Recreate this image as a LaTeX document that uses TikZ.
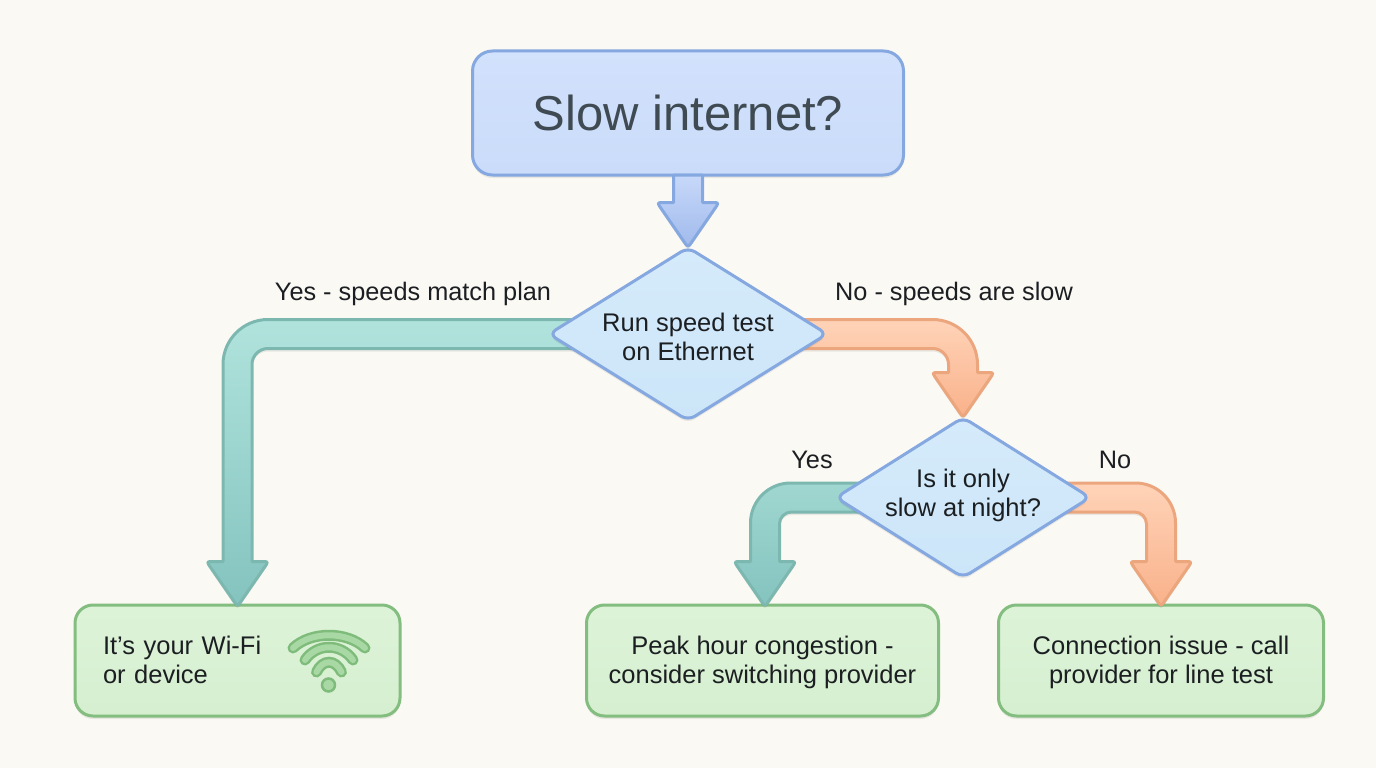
\documentclass[tikz,border=0pt]{standalone}
\usepackage{fontspec}
\setmainfont{Liberation Sans}
\usetikzlibrary{shapes.geometric,shadows,calc}
\pgfdeclarelayer{front}
\pgfsetlayers{main,front}
\definecolor{paper}{HTML}{FBF9F4}
\definecolor{ink}{HTML}{1C1F22}
\definecolor{titleink}{HTML}{3F4A52}
\definecolor{blueline}{HTML}{85A8E0}
\definecolor{boxtop}{HTML}{D2E1FC}
\definecolor{boxbot}{HTML}{CADCFA}
\definecolor{diatop}{HTML}{D5EBFB}
\definecolor{diabot}{HTML}{CCE5F8}
\definecolor{greenline}{HTML}{83BD7F}
\definecolor{leaftop}{HTML}{DDF3D8}
\definecolor{leafbot}{HTML}{D6EFD0}
\definecolor{wifiline}{HTML}{7FBC7C}
\definecolor{wififill}{HTML}{A8D8A3}
\definecolor{tealline}{HTML}{7DB8B0}
\definecolor{tealtop}{HTML}{B0E3DC}
\definecolor{tealmid}{HTML}{A0D7D0}
\definecolor{tealbot}{HTML}{84C3BF}
\definecolor{orangeline}{HTML}{EBA67E}
\definecolor{orangetop}{HTML}{FFD3B8}
\definecolor{orangebot}{HTML}{F9B18A}
\definecolor{arrowtop}{HTML}{C7D8F9}
\definecolor{arrowbot}{HTML}{A0BAEC}
\tikzset{
  softshadow/.style={drop shadow={opacity=0.07,shadow xshift=0pt,shadow yshift=-3pt,fill=black}},
  titlebox/.style={draw=blueline,line width=3pt,top color=boxtop,bottom color=boxbot,rounded corners=20pt,
    minimum width=431pt,minimum height=124pt,inner sep=0pt,outer sep=0pt,text=titleink,font=\fontsize{49}{56}\selectfont,softshadow},
  decision/.style={diamond,draw=blueline,line width=3pt,top color=diatop,bottom color=diabot,rounded corners=8pt,
    inner sep=0pt,outer sep=0pt,text=ink,font=\fontsize{25.5}{29}\selectfont,softshadow},
  leaf/.style={draw=greenline,line width=3pt,top color=leaftop,bottom color=leafbot,rounded corners=18pt,
    minimum height=111pt,inner sep=0pt,outer sep=0pt,text=ink,font=\fontsize{25.5}{29}\selectfont,softshadow},
  branchlabel/.style={text=ink,inner sep=0pt,font=\fontsize{25.3}{29}\selectfont},
  tealarrow/.style={draw=tealline,line width=3pt,line join=round,top color=tealtop,bottom color=tealbot,softshadow},
  tealarrowshort/.style={draw=tealline,line width=3pt,line join=round,top color=tealmid,bottom color=tealbot,softshadow},
  orangearrow/.style={draw=orangeline,line width=3pt,line join=round,top color=orangetop,bottom color=orangebot,softshadow},
  bluearrow/.style={draw=blueline,line width=3pt,line join=round,top color=arrowtop,bottom color=arrowbot,softshadow},
  wifistroke/.style={draw=wifiline,line width=11pt,line cap=round},
  wifiinner/.style={draw=wififill,line width=6pt,line cap=round}
}
% two-line text with zero height, moved down by #2 from the node centre
\newcommand{\twolines}[3][c]{\raisebox{\dimexpr -9pt - #2\relax}[0pt][0pt]{\begin{tabular}{@{}#1@{}}#3\end{tabular}}}
% arrow heads, walked right to left and left to right
\newcommand{\headRL}{%
  -- (\x2+14.5pt,\y2+45pt)
  -- (\x2+24pt,\y2+45pt) .. controls (\x2+31pt,\y2+45pt) .. (\x2+27pt,\y2+39.2pt)
  -- (\x2+4pt,\y2+5.8pt) .. controls (\x2,\y2) .. (\x2-4pt,\y2+5.8pt)
  -- (\x2-27pt,\y2+39.2pt) .. controls (\x2-31pt,\y2+45pt) .. (\x2-24pt,\y2+45pt)
  -- (\x2-14.5pt,\y2+45pt)}
\newcommand{\headLR}{%
  -- (\x2-14.5pt,\y2+45pt)
  -- (\x2-24pt,\y2+45pt) .. controls (\x2-31pt,\y2+45pt) .. (\x2-27pt,\y2+39.2pt)
  -- (\x2-4pt,\y2+5.8pt) .. controls (\x2,\y2) .. (\x2+4pt,\y2+5.8pt)
  -- (\x2+27pt,\y2+39.2pt) .. controls (\x2+31pt,\y2+45pt) .. (\x2+24pt,\y2+45pt)
  -- (\x2+14.5pt,\y2+45pt)}
% #1 start, #2 end, #3 outer radius, #4 inner radius, #5 style
\newcommand{\elbowleft}[5]{%
  \path[#5] let \p1=(#1), \p2=(#2) in
    (\x1,\y1+14.5pt) -- (\x2-14.5pt+#3pt,\y1+14.5pt)
    arc[start angle=90,end angle=180,radius=#3pt]
    \headLR
    -- (\x2+14.5pt,\y1-14.5pt-#4pt)
    arc[start angle=180,end angle=90,radius=#4pt]
    -- (\x1,\y1-14.5pt) -- cycle;}
\newcommand{\elbowright}[5]{%
  \path[#5] let \p1=(#1), \p2=(#2) in
    (\x1,\y1+14.5pt) -- (\x2+14.5pt-#3pt,\y1+14.5pt)
    arc[start angle=90,end angle=0,radius=#3pt]
    \headRL
    -- (\x2-14.5pt,\y1-14.5pt-#4pt)
    arc[start angle=0,end angle=90,radius=#4pt]
    -- (\x1,\y1-14.5pt) -- cycle;}
\begin{document}
\begin{tikzpicture}[x=1pt,y=-1pt]
\useasboundingbox (0,0) rectangle (1376,768);
\fill[paper] (0,0) rectangle (1376,768);
\node[titlebox] (top) at (688,113) {Slow internet?};
\node[leaf,minimum width=325pt,text width=269pt] (wifi) at (237.5,660.5) {\twolines[l]{0pt}{It’s your Wi-Fi\\or device}};
\node[leaf,minimum width=352pt] (peak) at (762.5,660.5) {\twolines{0pt}{Peak hour congestion -\\consider switching provider}};
\node[leaf,minimum width=325pt] (line) at (1161,660.5) {\twolines{0pt}{Connection issue - call\\provider for line test}};
\begin{pgfonlayer}{front}
\node[decision,aspect=1.607,minimum width=278pt,minimum height=173pt] (speed) at (688,334) {\twolines{3.5pt}{Run speed test\\on Ethernet}};
\node[decision,aspect=1.5875,minimum width=254pt,minimum height=160pt] (night) at (963,497.5) {\twolines{-4pt}{Is it only\\slow at night?}};
\end{pgfonlayer}
\node[branchlabel] (lyes) at (413,294) {Yes - speeds match plan};
\node[branchlabel] (lno) at (954,294) {No - speeds are slow};
\node[branchlabel] (lyes2) at (812,460) {Yes};
\node[branchlabel] (lno2) at (1115,460) {No};
\coordinate (peaktip) at ($(peak.north)+(2.5,1.5)$);
\coordinate (wifitip) at ($(wifi.north)+(0,1.5)$);
\coordinate (linetip) at ($(line.north)+(0,1.5)$);
% straight arrow
\path[bluearrow] let \p1=(top.south), \p2=(speed.north) in
  (\x1-14.5pt,\y1) -- (\x1+14.5pt,\y1) \headRL -- cycle;
% elbows
\elbowleft{speed.center}{wifitip}{45}{16}{tealarrow}
\elbowright{speed.center}{night.north}{45}{16}{orangearrow}
\elbowleft{night.center}{peaktip}{40}{12}{tealarrowshort}
\elbowright{night.center}{linetip}{40}{12}{orangearrow}
% wifi icon
\foreach \ya/\yc/\dx in {648/631/36, 660/643/24, 672/659/12.5}{
  \draw[wifistroke] (329-\dx,\ya) .. controls (329-0.5*\dx,\yc) and (329+0.5*\dx,\yc) .. (329+\dx,\ya);
  \draw[wifiinner] (329-\dx,\ya) .. controls (329-0.5*\dx,\yc) and (329+0.5*\dx,\yc) .. (329+\dx,\ya);
}
\filldraw[draw=wifiline,fill=wififill,line width=2.5pt] (328.5,685) circle (6.5);
\end{tikzpicture}
\end{document}
